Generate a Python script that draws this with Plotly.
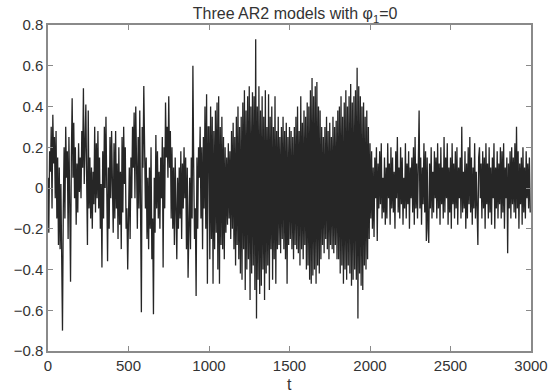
import numpy as np
import plotly.graph_objects as go

model1 = [
    0.05, -0.22, 0.18, 0.08, 0.30, -0.10, 0.36, 0.12, 0.25, -0.05, 0.28, -0.15, 0.15, -0.28, 0.10, -0.30, 0.02, -0.50, -0.70, -0.10,
    0.20, -0.15, 0.30, 0.05, 0.18, -0.25, 0.25, -0.08, -0.46, 0.15, 0.44, 0.05, 0.32, -0.05, 0.20, -0.18, 0.12, -0.12, 0.22, -0.02,
    0.15, -0.05, 0.28, 0.10, 0.49, 0.02, 0.30, 0.41, 0.05, -0.28, 0.38, -0.10, 0.15, -0.15, 0.10, -0.20, 0.08, -0.08, 0.30, -0.12,
    0.22, -0.05, 0.28, -0.10, 0.15, -0.20, 0.02, -0.39, 0.18, -0.15, 0.30, 0.00, 0.35, -0.12, -0.36, 0.10, -0.20, 0.25, -0.05, 0.28,
    0.05, -0.22, 0.22, -0.15, 0.28, -0.10, 0.12, -0.25, 0.20, -0.18, 0.08, -0.30, 0.25, -0.12, 0.30, 0.02, 0.20, -0.20, -0.10, -0.40,
    -0.15, 0.10, -0.25, 0.15, -0.05, 0.30, 0.10, 0.37, -0.05, 0.40, 0.12, -0.20, 0.25, -0.10, 0.38, -0.35, -0.61, 0.30, 0.10, 0.50,
    0.20, -0.10, 0.15, -0.25, 0.05, -0.30, 0.10, -0.20, 0.20, -0.35, -0.15, -0.62, 0.05, -0.22, 0.26, -0.10, 0.18, -0.15, 0.08, -0.20,
    0.15, -0.05, 0.25, -0.39, 0.20, -0.10, 0.42, 0.15, 0.30, 0.05, 0.45, 0.10, 0.28, -0.15, 0.20, -0.20, 0.10, -0.28, 0.15, -0.10,
    -0.35, 0.05, -0.20, 0.10, -0.15, 0.18, -0.25, 0.12, -0.10, 0.20, -0.05, 0.15, -0.30, 0.10, -0.44, -0.20, 0.05, -0.30, 0.15, -0.15,
    0.60, 0.10, -0.25, -0.10, -0.53, 0.15, -0.20, 0.20, 0.05, 0.30, -0.15, 0.20, -0.30, 0.25, -0.10, 0.40, -0.20, 0.46, -0.47, 0.30,
]
model2 = [
    0.30, -0.35, 0.40, -0.25, 0.35, -0.47, 0.28, -0.30, 0.38, -0.22, 0.42, -0.40, 0.45, -0.47, 0.30, -0.28, 0.35, -0.30, 0.25, -0.35,
    0.20, -0.22, 0.15, -0.18, 0.22, -0.15, 0.18, -0.25, 0.28, -0.20, 0.32, -0.30, 0.25, -0.38, 0.35, -0.28, 0.40, -0.35, 0.30, -0.42,
    0.35, -0.45, 0.42, -0.30, 0.48, -0.50, 0.38, -0.40, 0.45, -0.35, 0.50, -0.55, 0.40, -0.42, 0.47, -0.38, 0.45, -0.50, 0.73, -0.64,
    0.40, -0.45, 0.50, -0.52, 0.38, -0.48, 0.45, -0.40, 0.35, -0.55, 0.48, -0.42, 0.30, -0.38, 0.46, -0.50, 0.35, -0.30, 0.40, -0.45,
    0.30, -0.35, 0.45, -0.47, 0.28, -0.30, 0.35, -0.28, 0.25, -0.32, 0.30, -0.25, 0.35, -0.30, 0.28, -0.35, 0.32, -0.47, 0.25, -0.28,
    0.30, -0.25, 0.28, -0.30, 0.25, -0.35, 0.30, -0.28, 0.35, -0.30, 0.40, -0.32, 0.28, -0.38, 0.45, -0.30, 0.32, -0.35, 0.38, -0.28,
    0.35, -0.40, 0.42, -0.38, 0.40, -0.45, 0.48, -0.47, 0.54, -0.43, 0.45, -0.40, 0.50, -0.47, 0.52, -0.38, 0.40, -0.42, 0.38, -0.35,
    0.30, -0.28, 0.25, -0.32, 0.30, -0.25, 0.35, -0.30, 0.28, -0.35, 0.32, -0.28, 0.25, -0.30, 0.35, -0.32, 0.30, -0.28, 0.33, -0.35,
    0.38, -0.35, 0.40, -0.42, 0.45, -0.38, 0.35, -0.47, 0.42, -0.40, 0.48, -0.45, 0.40, -0.38, 0.45, -0.42, 0.51, -0.48, 0.42, -0.45,
    0.45, -0.40, 0.48, -0.45, 0.59, -0.64, 0.50, -0.42, 0.45, -0.48, 0.40, -0.50, 0.42, -0.38, 0.35, -0.40, 0.38, -0.35, 0.30, -0.25,
]
model3 = [
    0.22, -0.15, 0.18, -0.20, 0.10, -0.24, 0.15, -0.05, 0.20, -0.26, 0.12, -0.10, 0.18, -0.08, 0.22, -0.15, 0.05, -0.12, 0.15, -0.18,
    0.10, -0.15, 0.22, -0.05, 0.12, -0.18, 0.20, -0.10, 0.15, -0.12, 0.08, -0.20, 0.18, -0.05, 0.25, -0.12, 0.10, -0.15, 0.20, -0.08,
    0.15, -0.18, 0.05, -0.10, 0.22, -0.15, 0.12, -0.08, 0.18, -0.20, 0.10, -0.05, 0.15, -0.12, 0.20, -0.18, 0.25, -0.10, 0.12, -0.15,
    0.20, 0.38, -0.10, 0.15, -0.18, 0.10, -0.08, 0.22, -0.12, 0.18, -0.26, 0.15, -0.20, -0.27, 0.12, -0.10, 0.20, -0.15, 0.08, -0.12,
    0.18, -0.05, 0.15, -0.15, 0.22, -0.10, 0.12, -0.18, 0.20, -0.08, 0.10, -0.15, 0.25, -0.12, 0.15, -0.05, 0.22, -0.18, 0.10, -0.12,
    0.15, -0.20, 0.22, -0.08, 0.12, -0.15, 0.18, -0.10, 0.20, -0.18, 0.10, -0.05, 0.15, -0.15, 0.30, -0.12, 0.08, -0.10, 0.18, -0.20,
    0.12, -0.15, 0.20, -0.08, 0.25, -0.12, 0.15, -0.18, 0.10, -0.10, 0.22, -0.15, 0.08, -0.22, -0.28, 0.15, 0.20, -0.05, 0.12, -0.15,
    0.18, -0.10, 0.15, -0.20, 0.22, -0.08, 0.12, -0.15, 0.20, -0.12, 0.10, -0.18, 0.15, -0.05, 0.22, -0.20, 0.10, -0.10, 0.18, -0.15,
    0.12, -0.08, 0.20, -0.15, 0.18, -0.12, 0.22, -0.20, 0.10, -0.05, 0.15, -0.32, 0.12, -0.10, 0.18, -0.15, 0.20, -0.08, 0.15, -0.12,
    0.22, -0.15, 0.30, -0.10, 0.18, -0.20, 0.12, -0.08, 0.15, -0.18, 0.20, -0.12, 0.10, -0.15, 0.18, -0.05, 0.12, -0.10, 0.15, -0.12,
]
x_ticks = [0, 500, 1000, 1500, 2000, 2500, 3000]
y_ticks = [-0.8, -0.6, -0.4, -0.2, 0, 0.2, 0.4, 0.6, 0.8]

y = np.array(model1 + model2 + model3)
t = np.arange(len(y)) * 5

font = "Liberation Sans, Arial, Helvetica, sans-serif"
fig = go.Figure()
fig.add_trace(go.Scatter(x=t, y=y, mode="lines",
                         line=dict(color="#262626", width=1.3),
                         showlegend=False, hoverinfo="skip"))

axis_common = dict(showgrid=False, zeroline=False, showline=True, linecolor="#8a8a8a",
                   linewidth=1.5, mirror="allticks", ticks="inside", ticklen=5,
                   tickcolor="#8a8a8a", tickwidth=1,
                   tickfont=dict(family=font, size=15, color="#333333"))

fig.update_layout(
    width=560, height=392,
    margin=dict(l=48, r=17, t=25, b=41),
    paper_bgcolor="white", plot_bgcolor="white",
    title=dict(text="Three AR2 models with φ<sub>1</sub>=0", x=0.527, xanchor="center",
               y=0.965, yanchor="middle",
               font=dict(family=font, size=16, color="#333333")),
    xaxis=dict(range=[0, 3000], tickvals=x_ticks, **axis_common),
    yaxis=dict(range=[-0.8, 0.8], tickvals=y_ticks, **axis_common),
    annotations=[dict(text="t", x=0.5, y=0, xref="paper", yref="paper",
                      xanchor="center", yanchor="top", yshift=-23, showarrow=False,
                      font=dict(family=font, size=16, color="#333333"))],
)

fig.write_html("out.html")
